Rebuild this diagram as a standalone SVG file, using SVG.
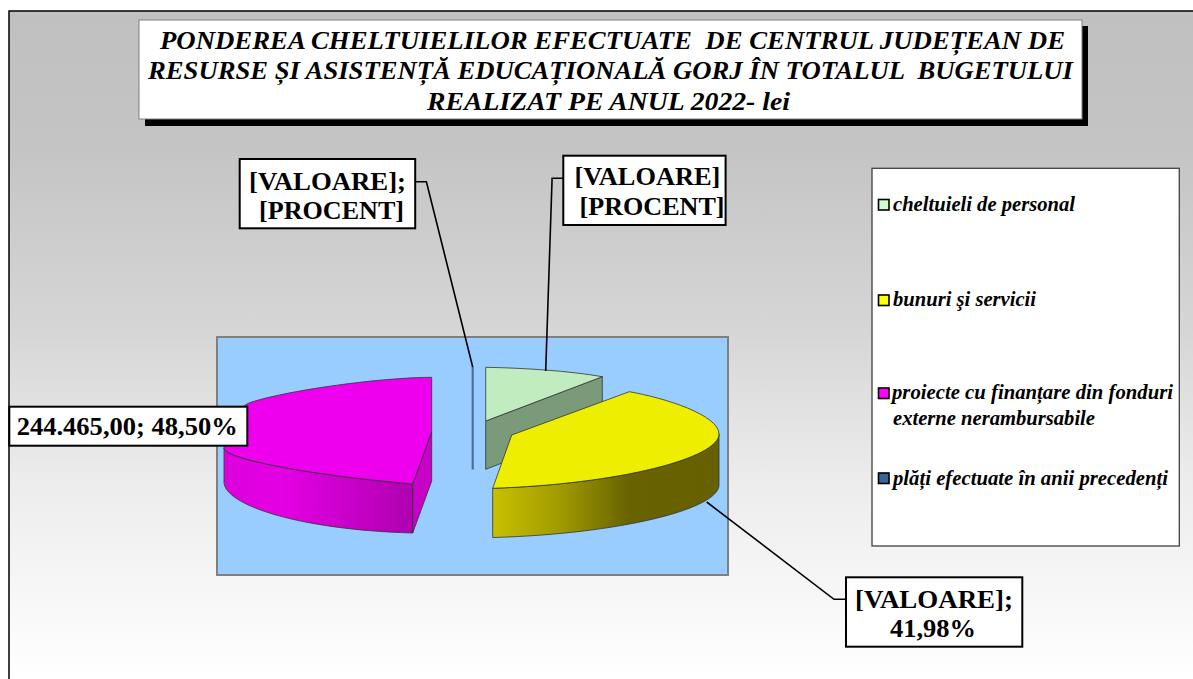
<svg xmlns="http://www.w3.org/2000/svg" width="1193" height="679" viewBox="0 0 1193 679">
<defs>
<linearGradient id="bg" gradientUnits="userSpaceOnUse" x1="0" y1="11" x2="0" y2="679">
<stop offset="0" stop-color="#c0c0c0"/>
<stop offset="0.2" stop-color="#c4c4c4"/>
<stop offset="0.48" stop-color="#d6d6d6"/>
<stop offset="0.7" stop-color="#ececec"/>
<stop offset="1" stop-color="#ffffff"/>
</linearGradient>
<linearGradient id="magSide" gradientUnits="userSpaceOnUse" x1="224" y1="0" x2="413" y2="0">
<stop offset="0" stop-color="#dc00dc"/>
<stop offset="0.3" stop-color="#e400e4"/>
<stop offset="1" stop-color="#b000b0"/>
</linearGradient>
<linearGradient id="yelSide" gradientUnits="userSpaceOnUse" x1="493" y1="0" x2="719" y2="0">
<stop offset="0" stop-color="#c8c000"/>
<stop offset="0.3" stop-color="#a09a00"/>
<stop offset="0.6" stop-color="#686200"/>
<stop offset="1" stop-color="#666000"/>
</linearGradient>
</defs>
<style>
text{font-family:"Liberation Serif","Tinos","Times New Roman",Times,"DejaVu Serif",serif}
.lbl{font-weight:bold;font-size:26px;fill:#000}
.ttl{font-weight:bold;font-style:italic;font-size:26px;fill:#000}
.leg{font-weight:bold;font-style:italic;font-size:20px;fill:#000}
.box{fill:#fff;stroke:#000;stroke-width:2}
.edge{stroke:#333;stroke-width:0.8;stroke-linejoin:round}
.lead{fill:none;stroke:#000;stroke-width:1.6}
.sw{stroke:#000;stroke-width:1.6}
</style>
<rect x="0" y="0" width="1193" height="679" fill="#fff"/>
<rect id="frame" x="9" y="11" width="1190" height="675" fill="url(#bg)" stroke="#000" stroke-width="1.5"/>

<g id="title">
<rect x="145" y="26" width="943" height="100" fill="#000"/>
<rect x="139" y="20" width="943" height="99" fill="#fff" stroke="#808080" stroke-width="1"/>
<text class="ttl" x="160" y="48.5" textLength="905" lengthAdjust="spacingAndGlyphs" xml:space="preserve">PONDEREA CHELTUIELILOR EFECTUATE  DE CENTRUL JUDEȚEAN DE</text>
<text class="ttl" x="148" y="79" textLength="925" lengthAdjust="spacingAndGlyphs" xml:space="preserve">RESURSE ȘI ASISTENȚĂ EDUCAȚIONALĂ GORJ ÎN TOTALUL  BUGETULUI</text>
<text class="ttl" x="427" y="110" textLength="363" lengthAdjust="spacingAndGlyphs">REALIZAT PE ANUL 2022- lei</text>
</g>

<g id="plot-area">
<rect x="217" y="337" width="511" height="238" fill="#99ccff" stroke="#808080" stroke-width="2"/>
</g>

<g id="slice-proiecte">
<path class="edge" fill="url(#magSide)" d="M224,448 C224,458 300,474 412.7,484 L412.7,533 C300,530 224,505 224,482 Z"/>
<path class="edge" fill="#c800c8" d="M431.7,432 L412.7,484 L412.7,533 L431.7,481 Z"/>
<path class="edge" fill="#ee00ee" d="M431.7,377.3 C380,377.5 290,390 251.7,402 C234,408 224,430 224,448 C224,458 300,474 412.7,484 L431.7,432 Z"/>
</g>

<g id="slice-plati">
<line x1="472.7" y1="367" x2="472.7" y2="469.5" stroke="#4f6f90" stroke-width="2.2"/>
</g>

<g id="slice-personal">
<path class="edge" fill="#7a9a7a" d="M485.7,421 L602.3,376.7 L602.3,424.7 L485.7,469.3 Z"/>
<path class="edge" fill="#c0ecc0" d="M485.7,421 L485.7,367.3 C525,368 570,371 602.3,376.7 Z"/>
</g>

<g id="slice-bunuri">
<path class="edge" fill="url(#yelSide)" d="M719,434 C719,458 620,484 492.7,488.3 L492.7,537.5 C620,534 719,509 719,485 Z"/>
<path class="edge" fill="#eeee00" d="M511.7,435 L629.3,391.7 C665,398 719,415 719,434 C719,458 620,484 492.7,488.3 Z"/>
</g>

<g id="connectors">
<polyline class="lead" points="415.2,181.7 426.4,181.7 472.7,367"/>
<polyline class="lead" points="563.3,178.3 552.1,178.3 545.7,371"/>
<polyline class="lead" points="846,599.3 834,599.3 706.7,502"/>
</g>

<g id="label-plati">
<rect class="box" x="239.7" y="159" width="175.5" height="69.3"/>
<text class="lbl" x="249" y="190" textLength="157" lengthAdjust="spacingAndGlyphs">[VALOARE];</text>
<text class="lbl" x="259" y="218.5" textLength="145" lengthAdjust="spacingAndGlyphs">[PROCENT]</text>
</g>

<g id="label-personal">
<rect class="box" x="563.3" y="155.7" width="162.3" height="69.3"/>
<text class="lbl" x="574.4" y="185" textLength="146" lengthAdjust="spacingAndGlyphs">[VALOARE]</text>
<text class="lbl" x="579.5" y="215" textLength="145" lengthAdjust="spacingAndGlyphs">[PROCENT]</text>
</g>

<g id="label-bunuri">
<rect class="box" x="846" y="577.3" width="176.3" height="69.4"/>
<text class="lbl" x="855" y="608.3" textLength="158" lengthAdjust="spacingAndGlyphs">[VALOARE];</text>
<text class="lbl" x="890" y="636.7" textLength="86" lengthAdjust="spacingAndGlyphs">41,98%</text>
</g>

<g id="label-proiecte">
<rect class="box" x="9.3" y="406.7" width="238" height="39"/>
<text class="lbl" x="16.7" y="435" textLength="221" lengthAdjust="spacingAndGlyphs">244.465,00; 48,50%</text>
</g>

<g id="legend">
<rect x="872" y="168.3" width="307.3" height="377.7" fill="#fff" stroke="#404040" stroke-width="1.3"/>
<rect class="sw" x="878.5" y="199.5" width="10.5" height="10.5" fill="#ccffcc"/>
<text class="leg" x="893" y="210.7" textLength="182" lengthAdjust="spacingAndGlyphs">cheltuieli de personal</text>
<rect class="sw" x="878.5" y="295" width="10.5" height="10.5" fill="#ffff00"/>
<text class="leg" x="893" y="306" textLength="143" lengthAdjust="spacingAndGlyphs">bunuri şi servicii</text>
<rect class="sw" x="878.5" y="388" width="10.5" height="10.5" fill="#ff00ff"/>
<text class="leg" x="892" y="399.3" textLength="281" lengthAdjust="spacingAndGlyphs">proiecte cu finanțare din fonduri</text>
<text class="leg" x="893" y="425" textLength="202" lengthAdjust="spacingAndGlyphs">externe nerambursabile</text>
<rect class="sw" x="878.5" y="473" width="10.5" height="10.5" fill="#336699"/>
<text class="leg" x="893" y="485" textLength="275" lengthAdjust="spacingAndGlyphs">plăți efectuate în anii precedenți</text>
</g>
</svg>
